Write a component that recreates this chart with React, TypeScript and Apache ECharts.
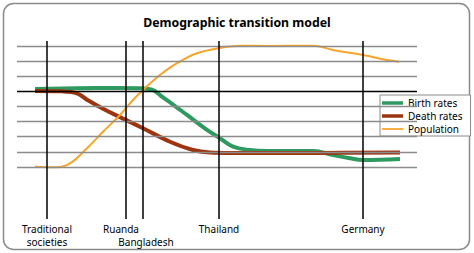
import React, { useEffect, useRef } from "react";
import * as echarts from "echarts";

const birthX = [18, 60, 100, 125, 135, 146, 156, 170, 190, 203, 216, 233, 250, 296, 316, 333, 346, 383];
const birthY = [5.16, 5.2, 5.22, 5.2, 5.12, 4.6, 4.13, 3.44, 2.45, 1.9, 1.34, 1.12, 1.06, 1.06, 0.79, 0.58, 0.46, 0.53];

const deathX = [18, 45, 60, 70, 86, 106, 126, 153, 176, 193, 213, 300, 383];
const deathY = [5.02, 5.0, 4.87, 4.45, 3.85, 3.2, 2.56, 1.67, 1.12, 0.95, 0.92, 0.93, 0.95];

const popX = [18, 40, 53, 70, 86, 103, 116, 126, 143, 160, 180, 203, 223, 250, 296, 316, 346, 370, 382];
const popY = [0.02, -0.02, 0.24, 1.24, 2.33, 3.44, 4.43, 5.09, 6.08, 6.86, 7.52, 7.87, 8.02, 8.0, 8.02, 7.74, 7.4, 7.07, 6.96];

const hLines = [0, 1, 2, 3, 4, 5, 6, 7, 8];
const stageX = [30, 109, 126, 202, 346];
const stageLabels = ["Traditional\nsocieties", "Ruanda", "Bangladesh", "Thailand", "Germany"];

const FONT = "'Noto Sans', sans-serif";
const GREEN = "#2e9a60";
const BROWN = "#9c3410";
const ORANGE = "#f7a52a";

export default function App() {
  const ref = useRef<HTMLDivElement>(null);
  useEffect(() => {
    document.body.style.margin = "0";
    const chart = echarts.init(ref.current!, null, { renderer: "svg" });
    const zip = (xs: number[], ys: number[]) => xs.map((x, i) => [x, ys[i]]);
    const labelFor = (v: number) => {
      const i = stageX.indexOf(v);
      if (i < 0) return "";
      if (i === 1) return `{r|${stageLabels[i]}}`;
      if (i === 2) return `{e| }\n{b|${stageLabels[i]}}`;
      return stageLabels[i]
        .split("\n")
        .map((s) => `{n|${s}}`)
        .join("\n");
    };
    const base = { fontFamily: FONT, fontSize: 10, color: "#000", lineHeight: 13 };
    chart.setOption({
      animation: false,
      title: {
        text: "Demographic transition model",
        left: "center",
        top: 11,
        textStyle: { fontFamily: FONT, fontSize: 12.3, fontWeight: "bold", color: "#000" },
      },
      legend: {
        data: [
          { name: "Birth rates", icon: "path://M0,0h24v4H0z" },
          { name: "Death rates", icon: "path://M0,0h24v4H0z" },
          { name: "Population", icon: "path://M0,0h24v2H0z" },
        ],
        orient: "vertical",
        left: 380,
        top: 95,
        itemWidth: 21,
        itemHeight: 10,
        itemGap: 3,
        padding: [3, 8, 2, 2],
        borderColor: "#8a8a8a",
        borderWidth: 1,
        backgroundColor: "#fff",
        textStyle: { fontFamily: FONT, fontSize: 10, color: "#000" },
      },
      graphic: [
        {
          type: "rect",
          z: -10,
          shape: { x: 3.5, y: 3.5, width: 466, height: 246, r: 10 },
          style: { fill: "none", stroke: "#8a8a8a", lineWidth: 1.5 },
        },
      ],
      grid: { left: 17, top: 41, width: 400, height: 178 },
      xAxis: {
        type: "value",
        min: 0,
        max: 400,
        axisLine: { show: false },
        axisTick: { show: false },
        splitLine: { show: false },
        axisLabel: {
          customValues: stageX,
          margin: 3,
          formatter: labelFor,
          rich: {
            n: base,
            r: { ...base, padding: [0, 10, 0, 0] },
            e: base,
            b: { ...base, padding: [0, 0, 0, 6] },
          },
        },
      },
      yAxis: {
        type: "value",
        min: -3.44,
        max: 8.33,
        show: false,
      },
      series: [
        {
          type: "line",
          name: "grid",
          data: [],
          z: 1,
          silent: true,
          markLine: {
            silent: true,
            symbol: "none",
            label: { show: false },
            data: hLines.map((v) => ({
              yAxis: v,
              lineStyle: { color: v === 5 ? "#000" : "#8c8c8c", width: 1.3, type: "solid" },
            })),
          },
        },
        {
          type: "line",
          name: "Birth rates",
          data: zip(birthX, birthY),
          smooth: 0.4,
          symbol: "none",
          z: 3,
          lineStyle: { color: GREEN, width: 4 },
          itemStyle: { color: GREEN },
        },
        {
          type: "line",
          name: "Death rates",
          data: zip(deathX, deathY),
          smooth: 0.4,
          symbol: "none",
          z: 3,
          lineStyle: { color: BROWN, width: 4 },
          itemStyle: { color: BROWN },
        },
        {
          type: "line",
          name: "Population",
          data: zip(popX, popY),
          smooth: 0.4,
          symbol: "none",
          z: 3,
          lineStyle: { color: ORANGE, width: 2 },
          itemStyle: { color: ORANGE },
        },
        {
          type: "line",
          name: "stages",
          data: [],
          z: 5,
          silent: true,
          markLine: {
            silent: true,
            symbol: "none",
            label: { show: false },
            lineStyle: { color: "#000", width: 1.5, type: "solid" },
            data: stageX.map((v) => ({ xAxis: v })),
          },
        },
      ],
    });
    return () => chart.dispose();
  }, []);
  return <div ref={ref} style={{ width: 474, height: 253, position: "absolute", left: 0, top: 0 }} />;
}
